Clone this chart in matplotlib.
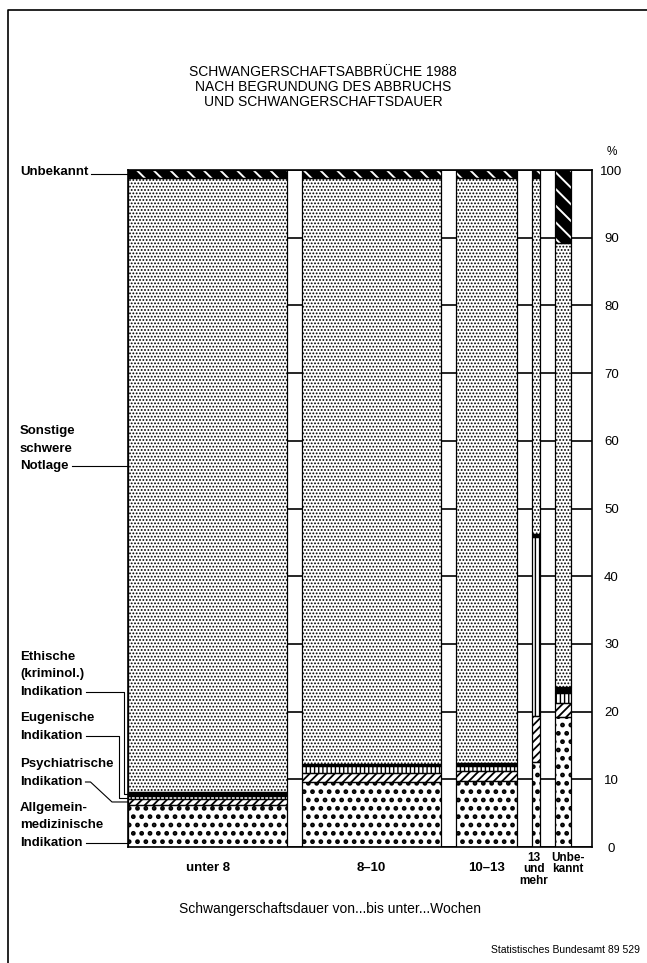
import matplotlib
matplotlib.use('Agg')
import matplotlib.pyplot as plt
import matplotlib.transforms as mtransforms
import numpy as np
from matplotlib.lines import Line2D

plt.rcParams['font.family'] = ['Liberation Sans Narrow', 'Liberation Sans', 'DejaVu Sans']
plt.rcParams['hatch.linewidth'] = 1.2

# ---------------- data ----------------
durations = ['unter 8', '8–10', '10–13', '13\nund\nmehr', 'Unbe-\nkannt']
cases = [34.9, 30.3, 13.3, 1.8, 3.5]          # Tsd. Abbrüche (column widths)

reasons = ['Allgemein-\nmedizinische\nIndikation', 'Psychiatrische\nIndikation',
           'Eugenische\nIndikation', 'Ethische\n(kriminol.)\nIndikation',
           'Sonstige\nschwere\nNotlage', 'Unbekannt']
allgemein = [6.2, 9.6, 9.8, 12.5, 19.2]
psychiatrisch = [0.9, 1.3, 1.4, 6.8, 2.1]
eugenisch = [0.4, 1.1, 0.8, 26.5, 1.5]
ethisch = [0.6, 0.3, 0.4, 0.5, 0.9]
sonstige = [90.7, 86.5, 86.4, 52.5, 65.5]
unbekannt = [1.2, 1.2, 1.2, 1.2, 10.8]
yticks = [0, 10, 20, 30, 40, 50, 60, 70, 80, 90, 100]

title = 'SCHWANGERSCHAFTSABBRÜCHE 1988\nNACH BEGRUNDUNG DES ABBRUCHS\nUND SCHWANGERSCHAFTSDAUER'
xcaption = 'Schwangerschaftsdauer von...bis unter...Wochen'
source = 'Statistisches Bundesamt 89 529'

layers = [allgemein, psychiatrisch, eugenisch, ethisch, sonstige, unbekannt]
styles = [
    dict(facecolor='white', edgecolor='black', hatch='..', hlw=2.2),
    dict(facecolor='white', edgecolor='black', hatch='////', hlw=1.3),
    dict(facecolor='white', edgecolor='black', hatch='||||', hlw=1.0),
    dict(facecolor='black', edgecolor='black', hatch=None, hlw=1.0),
    dict(facecolor='white', edgecolor='black', hatch='.....', hlw=0.85),
    dict(facecolor='black', edgecolor='white', hatch='\\\\', hlw=1.4),
]

W, H = 647, 963
fig = plt.figure(figsize=(W / 100, H / 100), dpi=100)
ax_l, ax_r, ax_t, ax_b = 128, 592, 170, 847
ax = fig.add_axes([ax_l / W, 1 - ax_b / H, (ax_r - ax_l) / W, (ax_b - ax_t) / H])

gap = 3.3
right_margin = 4.6
widths = np.array(cases)
lefts = np.concatenate([[0], np.cumsum(widths[:-1] + gap)])
centers = lefts + widths / 2
xmax = lefts[-1] + widths[-1] + right_margin

bottom = np.zeros(len(cases))
for vals, st in zip(layers, styles):
    vals = np.array(vals)
    st = dict(st)
    hlw = st.pop('hlw')
    with plt.rc_context({'hatch.linewidth': hlw}):
        bars = ax.bar(lefts, vals, width=widths, bottom=bottom, align='edge',
                      linewidth=0, zorder=2, **st)
    for b in bars:
        if hasattr(b, 'set_hatch_linewidth'):
            b.set_hatch_linewidth(hlw)
    ax.bar(lefts, vals, width=widths, bottom=bottom, align='edge', fill=False,
           edgecolor='black', linewidth=0.9, zorder=3)
    bottom += vals

ax.set_xlim(0, xmax)
ax.set_ylim(0, 100)
ax.set_yticks(yticks)
ax.yaxis.tick_right()
ax.tick_params(axis='y', length=0, pad=14, labelsize=9.5)
for lbl in ax.get_yticklabels():
    lbl.set_horizontalalignment('center')
ax.set_xticks([])
ax.yaxis.grid(True, color='black', linewidth=1.2)
ax.set_axisbelow(True)
for s in ax.spines.values():
    s.set_linewidth(1.2)

# x category labels
xshift = [0, 0, 0, -2, 5]   # pixels
for c, lab, dx in zip(centers, durations, xshift):
    tr = mtransforms.offset_copy(ax.get_xaxis_transform(), fig=fig, x=dx, y=0, units='dots')
    if '\n' in lab:
        ax.text(c, -0.007, lab, transform=tr, ha='center', va='top',
                fontsize=8.5, linespacing=0.95, fontweight='bold')
    else:
        ax.text(c, -0.031, lab, transform=tr, ha='center', va='center',
                fontsize=9.5, fontweight='bold')

ax.text(1.0 + 20 / (ax_r - ax_l), 1.0 + 18 / (ax_b - ax_t), '%', transform=ax.transAxes,
        ha='center', va='center', fontsize=8.5)

# overlay for titles, labels, leader lines (pixel coordinates, top-left origin)
ov = fig.add_axes([0, 0, 1, 1], zorder=5)
ov.set_xlim(0, W)
ov.set_ylim(H, 0)
ov.axis('off')
ov.patch.set_alpha(0)

ov.text(323, 87, title, ha='center', va='center', fontsize=10, linespacing=1.05)
ov.text(330, 909, xcaption, ha='center', va='center', fontsize=10)
ov.text(640, 950, source, ha='right', va='center', fontsize=7.5)

# figure border
ov.add_line(Line2D([8, 8, W], [H, 10, 10], color='black', lw=1.2))

fig.canvas.draw()


def ypix(v):
    disp = ax.transData.transform((0, v))
    return H - disp[1]


cum = np.concatenate([[0], np.cumsum([l[0] for l in layers])])
mid = [(cum[i] + cum[i + 1]) / 2 for i in range(len(layers))]

lh = 17.5
label_x = 20
last_y = [843, 782, 736, 692, 466, 172]
last_texts = []
for lab, ly in zip(reasons, last_y):
    lines = lab.split('\n')
    n = len(lines)
    t = None
    for i, s in enumerate(lines):
        t = ov.text(label_x, ly - (n - 1 - i) * lh, s, ha='left', va='center',
                    fontsize=9.5, fontweight='bold')
    last_texts.append(t)

fig.canvas.draw()
renderer = fig.canvas.get_renderer()
ends = [t.get_window_extent(renderer).x1 + 3 for t in last_texts]

lw = 0.8
# Allgemein
ov.add_line(Line2D([ends[0], ax_l], [843, 843], color='black', lw=lw))
# Psychiatrische
yp = ypix(mid[1])
ov.add_line(Line2D([ends[1], ends[1] + 5, 112, ax_l], [782, 782, yp, yp], color='black', lw=lw))
# Eugenische
ye = ypix(mid[2])
ov.add_line(Line2D([ends[2], 119, 119, ax_l], [736, 736, ye, ye], color='black', lw=lw))
# Ethische
yt = ypix(mid[3])
ov.add_line(Line2D([ends[3], 124, 124, ax_l], [692, 692, yt, yt], color='black', lw=lw))
# Sonstige
ov.add_line(Line2D([ends[4], ax_l], [466, 466], color='black', lw=lw))
# Unbekannt
yu = ypix(mid[5])
ov.add_line(Line2D([ends[5], ax_l], [yu, yu], color='black', lw=lw))

fig.savefig('out.png', dpi=100)
